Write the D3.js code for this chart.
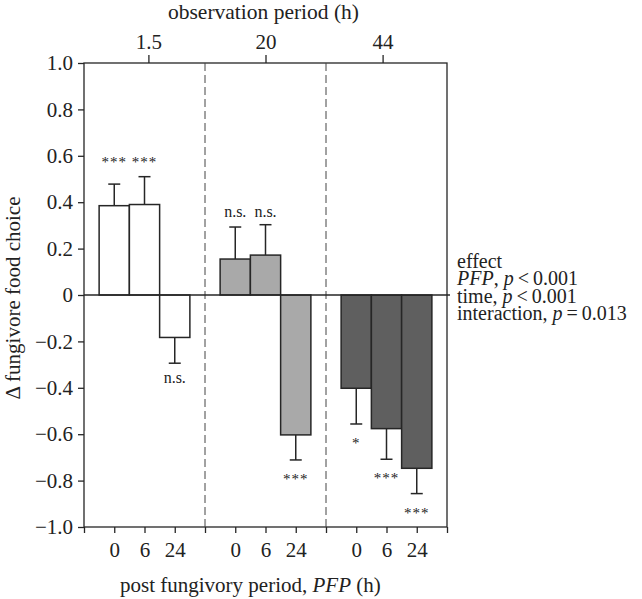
<!DOCTYPE html>
<html><head><meta charset="utf-8">
<script src="https://cdn.jsdelivr.net/npm/d3@7"></script>
<style>
body{margin:0;background:#fff;}
svg text{font-family:"Liberation Serif","Times New Roman",serif;fill:#222;}
</style></head>
<body><svg id="c" width="642" height="599"></svg>
<script>
// ---- data ----
const groups = ["1.5", "20", "44"];              // observation period (h)
const pfpLabels = ["0", "6", "24"];              // post fungivory period (h)
const means = [[0.385, 0.39, -0.183], [0.155, 0.172, -0.603], [-0.402, -0.576, -0.747]];
const errs  = [[0.093, 0.12, 0.111], [0.138, 0.131, 0.108], [0.154, 0.132, 0.109]];
const sig   = [["***", "***", "n.s."], ["n.s.", "n.s.", "***"], ["*", "***", "***"]];
const groupFills = ["#ffffff", "#a9a9a9", "#5f5f5f"];
const yTicks = [1.0, 0.8, 0.6, 0.4, 0.2, 0, -0.2, -0.4, -0.6, -0.8, -1.0];
const effectLines = [
  [["effect", false]],
  [["PFP", true], [", ", false], ["p", true], ["\u2009<\u20090.001", false]],
  [["time, ", false], ["p", true], ["\u2009<\u20090.001", false]],
  [["interaction, ", false], ["p", true], ["\u2009=\u20090.013", false]]
];

// ---- layout ----
const L = 84, R = 447, T = 63, B = 527;
const svg = d3.select("#c");
const x = d3.scaleLinear().domain([0, 12]).range([L, R]);
const y = d3.scaleLinear().domain([-1, 1]).range([B, T]);
const xTop = d3.scalePoint().domain(groups).range([L, R]).padding(0.55);
const stroke = "#262626";
const tickFont = "21px";

// frame
svg.append("rect").attr("x", L).attr("y", T).attr("width", R - L).attr("height", B - T)
  .attr("fill", "none").attr("stroke", stroke).attr("stroke-width", 1.3);

// dashed separators
[4, 8].forEach(s => svg.append("line").attr("x1", x(s)).attr("x2", x(s)).attr("y1", T).attr("y2", B)
  .attr("stroke", "#444").attr("stroke-width", 1).attr("stroke-dasharray", "8,4"));

// y axis
const yAx = svg.append("g").attr("transform", `translate(${L},0)`)
  .call(d3.axisLeft(y).tickValues(yTicks).tickSize(6).tickPadding(5)
    .tickFormat(d => d === 0 ? "0" : (d < 0 ? "\u2212" : "") + Math.abs(d).toFixed(1)));
yAx.select(".domain").remove();
yAx.selectAll("line").attr("stroke", stroke).attr("stroke-width", 1.3);
yAx.selectAll("text").style("font-size", tickFont).style("font-family", "Liberation Serif").attr("fill", "#222");

// bottom axis
const bAx = svg.append("g").attr("transform", `translate(0,${B})`)
  .call(d3.axisBottom(x).tickValues(d3.range(0, 13)).tickSize(6).tickPadding(9)
    .tickFormat(d => d % 4 === 0 ? "" : pfpLabels[d % 4 - 1]));
bAx.select(".domain").remove();
bAx.selectAll("line").attr("stroke", stroke).attr("stroke-width", 1.3);
bAx.selectAll("text").style("font-size", tickFont).style("font-family", "Liberation Serif").attr("fill", "#222");

// top axis
const tAx = svg.append("g").attr("transform", `translate(0,${T})`)
  .call(d3.axisTop(xTop).tickSize(8).tickPadding(6));
tAx.select(".domain").remove();
tAx.selectAll("line").attr("stroke", stroke).attr("stroke-width", 1.3);
tAx.selectAll("text").style("font-size", tickFont).style("font-family", "Liberation Serif").attr("fill", "#222");

// bars
const flat = [];
means.forEach((g, gi) => g.forEach((m, i) => flat.push({gi, i, m, e: errs[gi][i], s: sig[gi][i], slot: gi * 4 + i + 1})));

const capW = 12;
flat.forEach(d => {
  const tip = d.m >= 0 ? d.m + d.e : d.m - d.e;
  svg.append("line").attr("x1", x(d.slot)).attr("x2", x(d.slot)).attr("y1", y(d.m)).attr("y2", y(tip))
    .attr("stroke", stroke).attr("stroke-width", 1.5);
  svg.append("line").attr("x1", x(d.slot) - capW / 2).attr("x2", x(d.slot) + capW / 2).attr("y1", y(tip)).attr("y2", y(tip))
    .attr("stroke", stroke).attr("stroke-width", 1.5);
});
svg.append("g").selectAll("rect").data(flat).join("rect")
  .attr("x", d => x(d.slot - 0.5)).attr("width", d => x(d.slot + 0.5) - x(d.slot - 0.5))
  .attr("y", d => y(Math.max(0, d.m))).attr("height", d => Math.abs(y(d.m) - y(0)))
  .attr("fill", d => groupFills[d.gi]).attr("stroke", stroke).attr("stroke-width", 1.5);

// zero line
svg.append("line").attr("x1", L).attr("x2", R + 3).attr("y1", y(0)).attr("y2", y(0))
  .attr("stroke", stroke).attr("stroke-width", 1.3);

// significance labels
flat.forEach(d => {
  const isStar = d.s.includes("*");
  let ly;
  if (d.m >= 0) {
    const tops = flat.filter(o => o.gi === d.gi && o.m >= 0).map(o => y(o.m + o.e));
    ly = d3.min(tops) - (isStar ? 10 : 8);
  } else {
    ly = y(d.m - d.e) + (isStar ? 24 : 20);
  }
  svg.append("text").attr("x", x(d.slot)).attr("y", ly).attr("text-anchor", "middle")
    .style("font-size", isStar ? "15px" : "16px").attr("fill", isStar ? "#8a8a8a" : "#333")
    .style("letter-spacing", isStar ? "1px" : "0px")
    .text(d.s);
});

// axis titles
svg.append("text").attr("x", x(6) - 2).attr("y", 19).attr("text-anchor", "middle")
  .style("font-size", "21.5px").text("observation period (h)");
const bt = svg.append("text").attr("x", x(5.5)).attr("y", 592).attr("text-anchor", "middle").style("font-size", "21px");
bt.append("tspan").text("post fungivory period, ");
bt.append("tspan").style("font-style", "italic").text("PFP");
bt.append("tspan").text(" (h)");
svg.append("text").attr("transform", `translate(20,298) rotate(-90)`).attr("text-anchor", "middle")
  .style("font-size", "21px").text("\u0394 fungivore food choice");

// effect block
effectLines.forEach((parts, li) => {
  const t = svg.append("text").attr("x", 457).attr("y", 268 + li * 17.4).style("font-size", "20px");
  parts.forEach(([s, it]) => t.append("tspan").style("font-style", it ? "italic" : "normal").text(s));
});
</script></body></html>
